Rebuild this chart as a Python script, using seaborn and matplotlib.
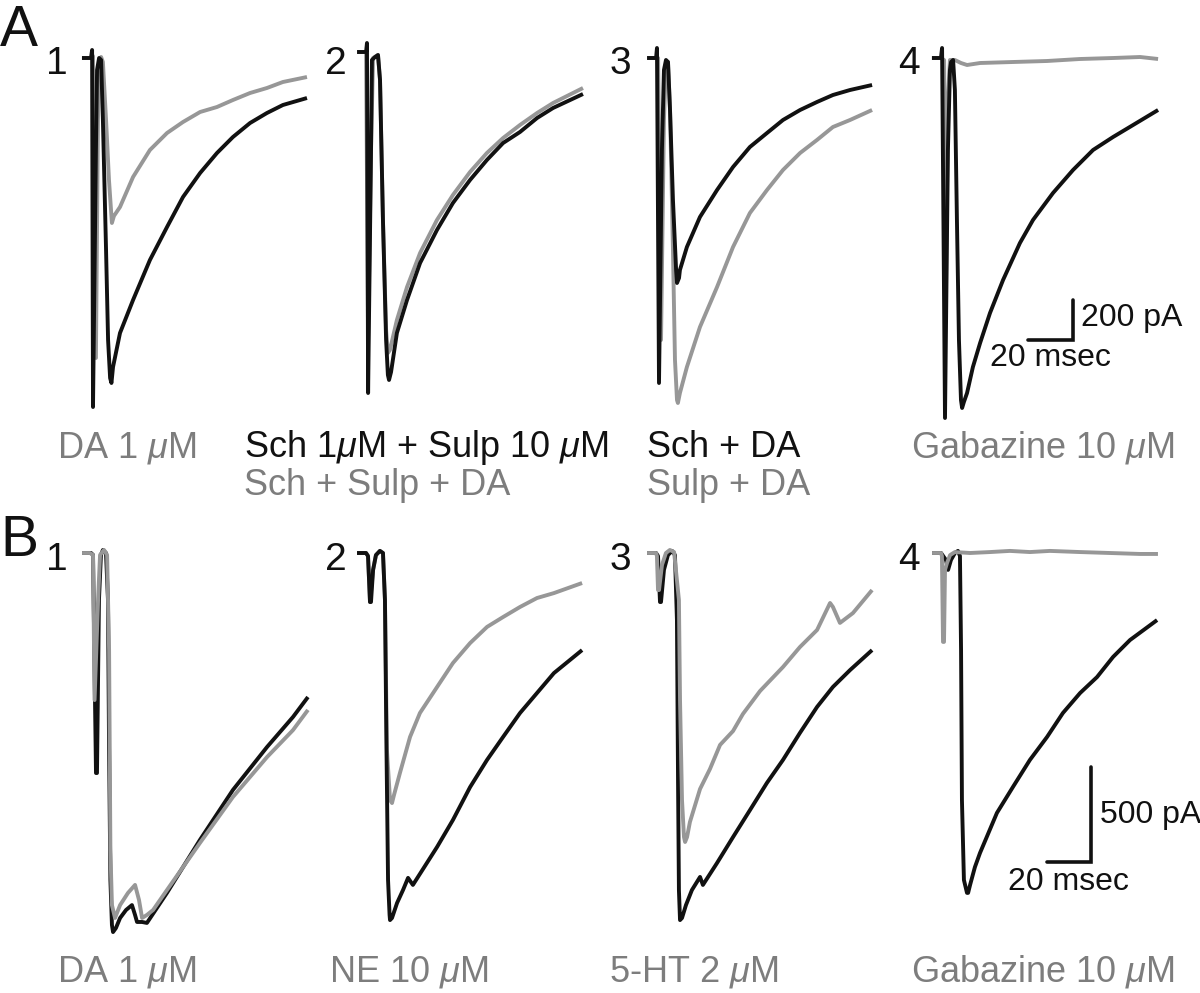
import matplotlib
matplotlib.use("Agg")
import matplotlib.pyplot as plt
import seaborn as sns

# ---------------- data (time in ms from stimulus, current in pA) ----------------
# Row A
a1_black_t = [-4.9, -0.9, -0.4, 0.0, 1.3, 1.8, 2.7, 3.6, 4.4, 5.8, 6.7, 7.6, 8.2, 8.9, 12.0, 17.8, 25.3, 32.9, 40.0, 47.6, 55.1, 62.2, 69.8, 77.3, 84.4, 95.1]
a1_black_i = [0, 0, 40, -1745, -460, -60, 0, -10, -310, -960, -1410, -1600, -1625, -1545, -1375, -1210, -1010, -845, -695, -575, -475, -395, -325, -275, -235, -200]
a1_gray_t = [-4.9, -0.4, 0.0, 1.3, 2.2, 2.9, 3.6, 4.4, 5.8, 7.1, 8.4, 9.3, 12.0, 17.8, 25.3, 32.9, 40.0, 47.6, 55.1, 62.2, 69.8, 77.3, 84.4, 95.1]
a1_gray_i = [0, 0, 10, -1500, -310, -10, 5, -20, -310, -610, -825, -790, -745, -595, -460, -375, -320, -270, -245, -210, -175, -150, -120, -95]

a2_black_t = [-5.3, -1.3, -0.9, -0.4, 0.9, 1.3, 2.7, 4.0, 4.9, 6.2, 7.6, 8.4, 8.9, 9.8, 12.4, 16.9, 22.7, 30.2, 37.3, 44.9, 52.4, 59.6, 67.1, 74.7, 81.8, 95.1]
a2_black_i = [30, 30, 75, -1675, -460, -10, 5, 15, -110, -810, -1410, -1585, -1610, -1570, -1375, -1210, -1025, -860, -725, -610, -510, -425, -370, -300, -250, -180]
a2_gray_t = [-5.3, -1.3, -0.4, 0.9, 1.8, 4.0, 4.9, 6.2, 7.6, 8.4, 9.3, 12.4, 16.9, 22.7, 30.2, 37.3, 44.9, 52.4, 59.6, 67.1, 74.7, 81.8, 95.1]
a2_gray_i = [30, 30, -1410, -460, 0, 15, -110, -810, -1360, -1475, -1460, -1310, -1145, -975, -810, -685, -570, -475, -400, -335, -275, -225, -150]

a3_black_t = [-5.3, -1.3, -0.9, 0.0, 1.3, 2.2, 3.1, 4.0, 4.9, 6.2, 7.6, 8.0, 8.9, 9.3, 12.4, 18.2, 25.8, 32.9, 40.4, 48.0, 55.1, 62.7, 70.2, 77.3, 84.9, 94.7]
a3_black_i = [0, 0, 50, -1625, -460, -60, -10, -20, -260, -710, -1060, -1125, -1100, -1060, -945, -795, -660, -545, -445, -375, -310, -260, -220, -185, -160, -135]
a3_gray_t = [-5.3, -1.3, -0.4, 0.9, 2.2, 3.1, 4.0, 4.9, 6.2, 7.1, 8.0, 8.4, 9.3, 12.4, 18.2, 25.8, 32.9, 40.4, 48.0, 55.1, 62.7, 70.2, 77.3, 84.9, 94.7]
a3_gray_i = [0, 0, 0, -1410, -310, -20, -20, -260, -960, -1510, -1710, -1725, -1675, -1545, -1345, -1145, -945, -775, -660, -560, -475, -410, -345, -310, -260]

a4_black_t = [-5.8, -1.8, -1.3, 0.0, 1.3, 2.2, 2.7, 3.6, 4.4, 5.3, 6.2, 7.1, 7.6, 8.4, 9.8, 12.4, 15.6, 20.0, 25.8, 33.3, 39.1, 48.0, 56.9, 65.8, 74.7, 83.6, 94.7]
a4_black_i = [0, 0, 50, -1800, -460, -60, -20, -10, -160, -810, -1410, -1710, -1750, -1720, -1675, -1545, -1425, -1275, -1110, -925, -810, -675, -560, -460, -395, -335, -260]
a4_gray_t = [-5.8, -1.8, -0.4, 0.4, 1.3, 2.2, 4.4, 7.1, 9.8, 15.6, 30.2, 45.3, 60.0, 74.7, 86.7, 94.7]
a4_gray_i = [0, 0, -10, -1200, -200, -10, -10, -25, -35, -25, -20, -15, -5, 0, 5, -5]

# Row B
b1_black_t = [-5.9, -1.8, -0.9, 0.45, 0.9, 1.8, 2.7, 3.6, 5.0, 5.9, 6.4, 7.0, 7.7, 8.2, 9.5, 11.4, 14.1, 16.8, 18.2, 19.1, 21.4, 23.6, 32.7, 47.7, 62.7, 78.2, 90.0, 96.8]
b1_black_i = [0, 0, -10, -1158, -1158, -247, -10, 16, 0, -247, -1037, -1721, -1958, -1995, -1974, -1921, -1879, -1853, -1905, -1942, -1942, -1947, -1789, -1510, -1247, -1021, -863, -758]
b1_gray_t = [-5.9, -2.3, -0.9, -0.2, 1.4, 2.3, 4.1, 5.5, 6.4, 7.0, 7.7, 9.1, 11.4, 15.0, 18.2, 20.0, 21.4, 23.6, 26.4, 32.7, 47.7, 62.7, 78.2, 90.0, 96.8]
b1_gray_i = [0, 0, -10, -774, -247, -10, 16, -10, -511, -1563, -1853, -1921, -1853, -1789, -1747, -1826, -1921, -1905, -1879, -1774, -1526, -1284, -1074, -932, -826]

b2_black_t = [-5.9, -1.8, -0.9, 0.0, 0.45, 1.4, 2.7, 4.5, 5.9, 6.8, 7.5, 8.2, 8.9, 9.1, 10.0, 12.3, 15.0, 17.3, 19.5, 30.5, 37.7, 45.5, 53.2, 60.5, 68.2, 75.9, 83.6, 90.9, 96.4]
b2_black_i = [0, 0, -16, -258, -258, -89, -11, 11, 0, -247, -1037, -1721, -1905, -1932, -1921, -1842, -1774, -1710, -1747, -1547, -1405, -1232, -1089, -968, -842, -737, -632, -563, -511]
b2_gray_t = [-5.9, -1.8, -0.9, 0.0, 1.4, 2.7, 4.5, 5.9, 6.8, 7.7, 9.1, 10.0, 10.9, 13.6, 18.2, 22.7, 30.5, 37.7, 45.5, 53.2, 60.5, 68.2, 75.9, 83.6, 96.4]
b2_gray_i = [0, 0, -16, -258, -89, -11, 11, 0, -247, -1037, -1300, -1316, -1274, -1158, -968, -842, -705, -579, -474, -389, -337, -284, -237, -211, -158]

b3_black_t = [-5.9, -1.8, -0.9, 0.0, 0.45, 1.8, 3.6, 5.5, 6.8, 7.7, 8.2, 8.6, 9.1, 10.0, 11.8, 14.5, 18.2, 19.5, 25.9, 33.2, 40.9, 48.6, 55.9, 63.6, 71.4, 78.6, 86.4, 96.4]
b3_black_i = [0, 0, -16, -258, -258, -89, -11, 11, -11, -353, -1195, -1774, -1932, -1921, -1853, -1774, -1705, -1747, -1632, -1495, -1353, -1210, -1089, -947, -810, -705, -616, -511]
b3_gray_t = [-5.9, -1.8, -1.4, -0.9, -0.45, 0.9, 2.7, 4.5, 6.4, 8.6, 9.1, 10.0, 10.9, 11.4, 12.3, 13.6, 18.2, 22.7, 27.3, 33.2, 37.7, 45.5, 55.9, 63.6, 71.4, 77.3, 78.6, 81.8, 87.7, 96.4]
b3_gray_i = [0, 0, -16, -195, -195, -63, 0, 16, 5, -247, -774, -1300, -1495, -1521, -1495, -1416, -1242, -1137, -1010, -937, -847, -726, -600, -495, -405, -263, -284, -368, -316, -195]

b4_black_t = [-5.9, -1.8, 0.45, 1.4, 2.7, 4.5, 5.9, 6.8, 7.3, 7.7, 8.6, 10.0, 10.5, 11.4, 13.6, 15.9, 23.6, 30.9, 38.6, 46.4, 53.6, 61.4, 69.1, 76.4, 84.1, 96.4]
b4_black_i = [0, 0, -37, -89, -37, 0, 11, -16, -511, -1300, -1721, -1789, -1789, -1747, -1653, -1579, -1368, -1231, -1089, -968, -842, -737, -653, -547, -458, -353]
b4_gray_t = [-5.9, -1.8, -1.4, -0.9, -0.45, 0.0, 0.9, 2.3, 4.5, 11.4, 20.5, 29.5, 38.6, 47.7, 61.4, 75.0, 88.6, 96.8]
b4_gray_i = [0, 0, -16, -468, -468, -89, -53, -11, 5, 0, 5, 11, 5, 11, 5, 0, -5, -5]

# labels
row_a_labels = ["DA 1 $\\mu$M", "Sch 1$\\mu$M + Sulp 10 $\\mu$M", "Sch + DA", "Gabazine 10 $\\mu$M"]
row_a_labels_2 = [None, "Sch + Sulp + DA", "Sulp + DA", None]
row_a_label_colors = ["gray", "black", "black", "gray"]
row_b_labels = ["DA 1 $\\mu$M", "NE 10 $\\mu$M", "5-HT 2 $\\mu$M", "Gabazine 10 $\\mu$M"]
panel_numbers = ["1", "2", "3", "4"]
scalebar_a = (20, 200)   # ms, pA
scalebar_b = (20, 500)

# ---------------- style ----------------
sns.set_style("white")
plt.rcParams['font.family'] = ['Liberation Sans', 'DejaVu Sans']
plt.rcParams['mathtext.fontset'] = 'custom'
plt.rcParams['mathtext.rm'] = 'Liberation Sans'
plt.rcParams['mathtext.it'] = 'Liberation Sans:italic'

W, H = 1200, 993
fig = plt.figure(figsize=(W / 100, H / 100), dpi=100)
fig.patch.set_facecolor('white')

BLACK = '#111111'
GRAY = '#979797'
TEXT_GRAY = '#7d7d7d'
LW = 2.8
XLIM = (-8, 102)


def ftext(x, y, s, **kw):
    return fig.text(x / W, 1 - y / H, s, **kw)


def add_panel(xa, y0, pxms, pxpa, ylim):
    left = xa + XLIM[0] * pxms
    right = xa + XLIM[1] * pxms
    top = y0 - ylim[1] * pxpa
    bottom = y0 - ylim[0] * pxpa
    ax = fig.add_axes([left / W, 1 - bottom / H, (right - left) / W, (bottom - top) / H])
    ax.set_xlim(XLIM)
    ax.set_ylim(ylim)
    ax.set_axis_off()
    return ax


def trace(ax, t, i, color, z):
    sns.lineplot(x=t, y=i, ax=ax, sort=False, estimator=None, color=color,
                 linewidth=LW, zorder=z, solid_joinstyle='round', solid_capstyle='butt',
                 clip_on=False)


rows = [
    dict(xa=[93, 369, 659, 945], y0=58, pxms=2.25, pxpa=0.2, ylim=(-1900, 150),
         traces=[(a1_black_t, a1_black_i, a1_gray_t, a1_gray_i, False),
                 (a2_black_t, a2_black_i, a2_gray_t, a2_gray_i, False),
                 (a3_black_t, a3_black_i, a3_gray_t, a3_gray_i, False),
                 (a4_black_t, a4_black_i, a4_gray_t, a4_gray_i, False)]),
    dict(xa=[95, 370, 660, 945], y0=553, pxms=2.2, pxpa=0.19, ylim=(-2100, 150),
         traces=[(b1_black_t, b1_black_i, b1_gray_t, b1_gray_i, True),
                 (b2_black_t, b2_black_i, b2_gray_t, b2_gray_i, False),
                 (b3_black_t, b3_black_i, b3_gray_t, b3_gray_i, True),
                 (b4_black_t, b4_black_i, b4_gray_t, b4_gray_i, True)]),
]

axes_rows = []
for row in rows:
    axs = []
    for k, (bt, bi, gt, gi, gray_top) in enumerate(row['traces']):
        ax = add_panel(row['xa'][k], row['y0'], row['pxms'], row['pxpa'], row['ylim'])
        trace(ax, gt, gi, GRAY, 4 if gray_top else 2)
        trace(ax, bt, bi, BLACK, 3)
        axs.append(ax)
    axes_rows.append(axs)


def scalebar(ax, corner, size, txt_v, txt_h, vpos, hpos, fs):
    cx, cy = corner
    dt, di = size
    ax.plot([cx - dt, cx, cx], [cy, cy, cy + di], color=BLACK, lw=2.6,
            solid_joinstyle='miter', clip_on=False, zorder=5)
    ax.text(vpos[0], vpos[1], txt_v, ha='left', va='center', fontsize=fs, color=BLACK)
    ax.text(hpos[0], hpos[1], txt_h, ha='center', va='center', fontsize=fs, color=BLACK)


scalebar(axes_rows[0][3], (56.9, -1410), scalebar_a, f"{scalebar_a[1]} pA", f"{scalebar_a[0]} msec",
         (60.5, -1300), (46.7, -1500), 23)
scalebar(axes_rows[1][3], (66.4, -1626), scalebar_b, f"{scalebar_b[1]} pA", f"{scalebar_b[0]} msec",
         (70.5, -1379), (55.9, -1732), 23)

# panel letters
ftext(0, 46, "A", fontsize=41, color=BLACK, va='baseline', ha='left')
ftext(0, 556, "B", fontsize=41, color=BLACK, va='baseline', ha='left')

# panel numbers
num_x = [46, 325, 610, 898]
for k, n in enumerate(panel_numbers):
    ftext(num_x[k], 74, n, fontsize=28, color=BLACK, va='baseline', ha='left')
    ftext(num_x[k], 570, n, fontsize=28, color=BLACK, va='baseline', ha='left')

# condition labels
lab_x = [57, 244, 647, 911]
LFS = 26
for k in range(4):
    c = TEXT_GRAY if row_a_label_colors[k] == "gray" else BLACK
    ftext(lab_x[k], 457, row_a_labels[k], fontsize=LFS, color=c, va='baseline', ha='left')
    if row_a_labels_2[k]:
        ftext(lab_x[k], 495, row_a_labels_2[k], fontsize=LFS, color=TEXT_GRAY, va='baseline', ha='left')

lab_xb = [57, 329, 609, 911]
for k in range(4):
    ftext(lab_xb[k], 982, row_b_labels[k], fontsize=LFS, color=TEXT_GRAY, va='baseline', ha='left')

fig.savefig("out.png", dpi=100, facecolor='white')
